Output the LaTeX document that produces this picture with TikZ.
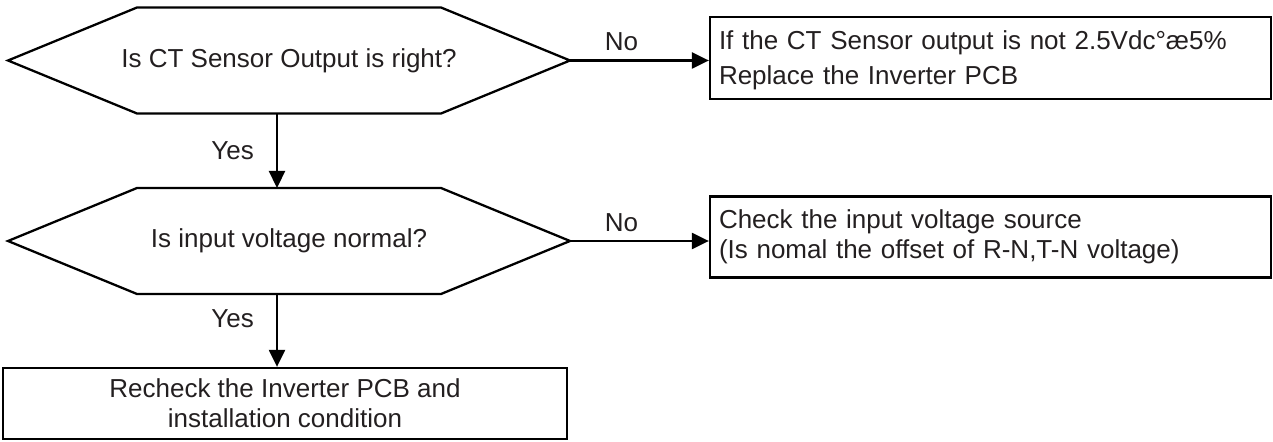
\documentclass[tikz,border=0pt]{standalone}
\usepackage{fontspec}
\setmainfont{Liberation Sans}
\usetikzlibrary{arrows.meta,calc}
\definecolor{ink}{HTML}{231F20}
\newcommand{\chartfont}{\fontsize{14.8}{17}\selectfont}
\tikzset{
 every node/.append style={font=\chartfont,text=ink},
 decision/.style={minimum width=112.4mm,minimum height=21.2mm,inner sep=0pt,outer sep=0pt,align=center},
 edge/.style={draw=black,line width=1.3pt,line join=miter},
 box/.style={draw=black,line width=1.3pt,inner xsep=1.8mm,inner ysep=0pt},
 action/.style={box,text width=108.6mm,minimum height=16.4mm,align=left},
 finish/.style={box,minimum width=112.8mm,minimum height=14.2mm,align=center},
 flow/.style={-{Triangle[length=3.4mm,width=3.2mm]},draw=black,line width=1.3pt},
 answer/.style={inner sep=0pt},
}
\newcommand{\hexedge}[1]{
 \draw[edge] (#1.west) -- ($(#1.north west)+(2.58,0)$) -- ($(#1.north east)+(-2.58,0)$) -- (#1.east) -- ($(#1.south east)+(-2.58,0)$) -- ($(#1.south west)+(2.58,0)$) -- cycle;
}

\begin{document}
\begin{tikzpicture}

\useasboundingbox (0,0) rectangle (25.46,-8.84);
\node[decision] (ctout) at (5.78,-1.21) {Is CT Sensor Output is right?};
\node[decision] (involt) at (5.78,-4.82) {Is input voltage normal?};
\node[action] (replace) at (19.81,-1.155) {\rule{0pt}{4.6mm}If the CT Sensor output is not 2.5Vdc°æ5\%\\[2.9pt]Replace the Inverter PCB};
\node[action,minimum height=16.2mm] (source) at (19.81,-4.74) {Check the input voltage source\\(Is nomal the offset of R-N,T-N voltage)};
\node[finish] (recheck) at (5.70,-8.07) {Recheck the Inverter PCB and\\installation condition};
\hexedge{ctout} \hexedge{involt}
\draw[flow] (ctout.east) -- node[answer,pos=.37,above=1.7mm] (no1) {No} (ctout.east -| replace.west);
\draw[flow] (involt.east) -- node[answer,pos=.37,above=1.7mm] (no2) {No} (involt.east -| source.west);
\draw[flow] ([xshift=-2.4mm]ctout.south) -- node[answer,midway,left=4.4mm] (yes1) {Yes} ([xshift=-2.4mm]involt.north);
\draw[flow] ([xshift=-2.4mm]involt.south) -- node[answer,pos=.34,left=4.4mm] (yes2) {Yes} ([xshift=-2.4mm]involt.south |- recheck.north);

\end{tikzpicture}
\end{document}
